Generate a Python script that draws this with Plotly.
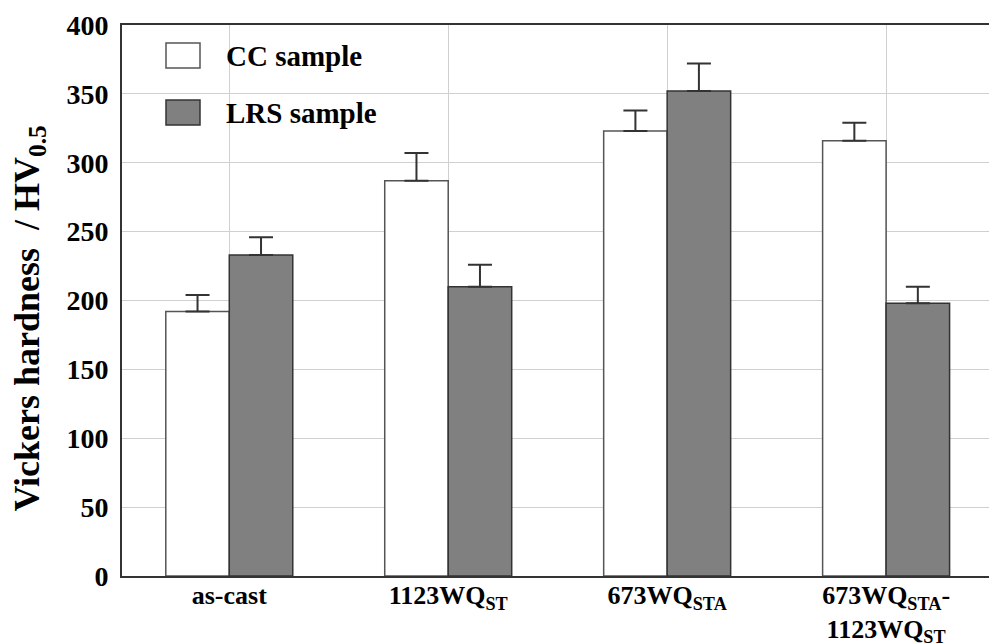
import plotly.graph_objects as go

categories = ["as-cast", "1123WQ<sub>ST</sub>", "673WQ<sub>STA</sub>",
              "673WQ<sub>STA</sub>-<br>1123WQ<sub>ST</sub>"]
cc_values = [192, 287, 323, 316]
cc_errors = [12, 20, 15, 13]
lrs_values = [233, 210, 352, 198]
lrs_errors = [13, 16, 20, 12]
series_names = ["CC sample", "LRS sample"]
y_ticks = [0, 50, 100, 150, 200, 250, 300, 350, 400]

FONT = "Liberation Serif"
x_idx = list(range(len(categories)))

fig = go.Figure()
fig.add_trace(go.Bar(
    x=x_idx, y=cc_values, name=series_names[0],
    marker=dict(color="white", line=dict(color="#555555", width=1.5)),
    error_y=dict(type="data", array=cc_errors, arrayminus=[0]*4, symmetric=False,
                 color="#333333", thickness=2, width=12),
    showlegend=False,
))
fig.add_trace(go.Bar(
    x=x_idx, y=lrs_values, name=series_names[1],
    marker=dict(color="#808080", line=dict(color="#333333", width=1.5)),
    error_y=dict(type="data", array=lrs_errors, arrayminus=[0]*4, symmetric=False,
                 color="#333333", thickness=2, width=12),
    showlegend=False,
))

# legend drawn as swatches + labels
swatches = [("white", "#555555", 43, 68), ("#808080", "#333333", 100, 125)]
W, H = 989, 643
ml, mr, mt, mb = 122, 0, 25, 67
pw, ph = W - ml - mr, H - mt - mb
def px_x(x):
    return (x - ml) / pw
def px_y(y):
    return 1 - (y - mt) / ph
for (fill, edge, y0, y1), name in zip(swatches, series_names):
    fig.add_shape(type="rect", xref="paper", yref="paper",
                  x0=px_x(166), x1=px_x(200), y0=px_y(y1), y1=px_y(y0),
                  fillcolor=fill, line=dict(color=edge, width=1.5))
    fig.add_annotation(xref="paper", yref="paper", x=px_x(224), y=px_y((y0 + y1) / 2),
                       text="<b>%s</b>" % name, showarrow=False, xanchor="left",
                       yanchor="middle", font=dict(family=FONT, size=29, color="black"))

fig.update_layout(
    width=W, height=H,
    margin=dict(l=ml, r=mr, t=mt, b=mb, autoexpand=False),
    paper_bgcolor="white", plot_bgcolor="white",
    barmode="group", bargap=0.42, bargroupgap=0,
    font=dict(family=FONT, color="black"),
)
fig.update_xaxes(
    range=[-0.49, 3.47], tickmode="array", tickvals=x_idx,
    ticktext=["<b>%s</b>" % c for c in categories],
    tickfont=dict(family=FONT, size=26, color="black"),
    tickson="boundaries", ticks="", showgrid=True, gridcolor="#d0d0d0", gridwidth=1,
    showline=True, linecolor="#333333", linewidth=2, mirror=True,
    zeroline=False, ticklabelstandoff=-5,
)
fig.update_yaxes(
    range=[0, 400], tickmode="array", tickvals=y_ticks,
    ticktext=["<b>%d</b>" % v for v in y_ticks],
    tickfont=dict(family=FONT, size=28, color="black"),
    showgrid=True, gridcolor="#d0d0d0", gridwidth=1,
    showline=True, linecolor="#333333", linewidth=2,
    zeroline=False, ticks="", ticklabelstandoff=6,
    title=dict(text="<b>Vickers hardness  / HV<sub>0.5</sub>&nbsp;&nbsp;&nbsp;&nbsp;</b>",
               font=dict(family=FONT, size=36, color="black"), standoff=16),
)

fig.write_html("out.html")
